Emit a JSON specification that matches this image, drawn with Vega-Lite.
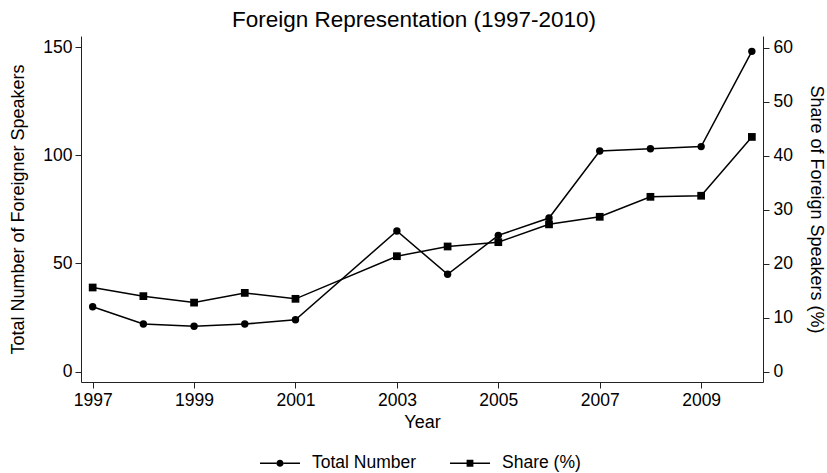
{
  "$schema": "https://vega.github.io/schema/vega-lite/v6.json",
  "width": 682,
  "height": 346,
  "autosize": {"type": "none"},
  "padding": {"left": 81, "top": 36, "right": 64, "bottom": 91},
  "background": "white",
  "title": {"text": "Foreign Representation (1997-2010)", "font": "Liberation Sans", "fontSize": 22.5, "fontWeight": "normal", "color": "black", "anchor": "middle", "offset": 5, "dx": -8},
  "config": {
    "view": {"stroke": null},
    "axis": {"labelFont": "Liberation Sans", "titleFont": "Liberation Sans", "labelFontSize": 17.5, "titleFontSize": 18, "titleFontWeight": "normal", "labelColor": "black", "titleColor": "black", "domainColor": "#222", "tickColor": "#222", "tickSize": 6, "grid": false},
    "legend": {"labelFont": "Liberation Sans", "labelFontSize": 17.5, "labelColor": "black"}
  },
  "data": {"values": [
    {"Year": 1997, "Series": "Total Number", "Value": 30},
    {"Year": 1998, "Series": "Total Number", "Value": 22},
    {"Year": 1999, "Series": "Total Number", "Value": 21},
    {"Year": 2000, "Series": "Total Number", "Value": 22},
    {"Year": 2001, "Series": "Total Number", "Value": 24},
    {"Year": 2003, "Series": "Total Number", "Value": 65},
    {"Year": 2004, "Series": "Total Number", "Value": 45},
    {"Year": 2005, "Series": "Total Number", "Value": 63},
    {"Year": 2006, "Series": "Total Number", "Value": 71},
    {"Year": 2007, "Series": "Total Number", "Value": 102},
    {"Year": 2008, "Series": "Total Number", "Value": 103},
    {"Year": 2009, "Series": "Total Number", "Value": 104},
    {"Year": 2010, "Series": "Total Number", "Value": 148},
    {"Year": 1997, "Series": "Share (%)", "Value": 15.6},
    {"Year": 1998, "Series": "Share (%)", "Value": 14.0},
    {"Year": 1999, "Series": "Share (%)", "Value": 12.8},
    {"Year": 2000, "Series": "Share (%)", "Value": 14.6},
    {"Year": 2001, "Series": "Share (%)", "Value": 13.5},
    {"Year": 2003, "Series": "Share (%)", "Value": 21.4},
    {"Year": 2004, "Series": "Share (%)", "Value": 23.2},
    {"Year": 2005, "Series": "Share (%)", "Value": 24.0},
    {"Year": 2006, "Series": "Share (%)", "Value": 27.3},
    {"Year": 2007, "Series": "Share (%)", "Value": 28.7},
    {"Year": 2008, "Series": "Share (%)", "Value": 32.4},
    {"Year": 2009, "Series": "Share (%)", "Value": 32.6},
    {"Year": 2010, "Series": "Share (%)", "Value": 43.5}
  ]},
  "encoding": {
    "x": {"field": "Year", "type": "quantitative", "scale": {"domain": [1996.77, 2010.22], "nice": false, "zero": false},
      "axis": {"title": "Year", "values": [1997, 1999, 2001, 2003, 2005, 2007, 2009], "format": "d", "labelPadding": 3, "titlePadding": 5}}
  },
  "layer": [
    {
      "transform": [{"filter": "datum.Series === 'Total Number'"}],
      "encoding": {
        "y": {"field": "Value", "type": "quantitative", "scale": {"domain": [-4.76, 155.1], "nice": false, "zero": false},
          "axis": {"title": "Total Number of Foreigner Speakers", "values": [0, 50, 100, 150], "orient": "left", "labelPadding": 3, "titlePadding": 15}}
      },
      "layer": [
        {"mark": {"type": "line", "color": "black", "strokeWidth": 1.5}},
        {"mark": {"type": "point", "filled": true, "color": "black", "shape": "circle", "size": 55, "opacity": 1}},
        {"transform": [{"filter": "false"}],
          "mark": {"type": "point", "filled": true, "fill": "black", "size": 1600, "opacity": 1},
          "encoding": {"shape": {"field": "Series", "type": "nominal",
            "scale": {"domain": ["Total Number", "Share (%)"], "range": [
              "M-1,-0.04H-0.17V0.04H-1ZM0.17,-0.04H1V0.04H0.17ZM-0.18,0A0.18,0.18 0 1,0 0.18,0A0.18,0.18 0 1,0 -0.18,0Z",
              "M-1,-0.04H-0.16V0.04H-1ZM0.16,-0.04H1V0.04H0.16ZM-0.17,-0.17H0.17V0.17H-0.17Z"]},
            "legend": {"title": null, "orient": "none", "direction": "horizontal", "legendX": 179, "legendY": 407, "padding": 0, "labelOffset": 12, "columnPadding": 33, "symbolSize": 1600,
              "symbolFillColor": "black", "symbolStrokeWidth": 0, "symbolOpacity": 1}}}}
      ]
    },
    {
      "transform": [{"filter": "datum.Series === 'Share (%)'"}],
      "encoding": {
        "y": {"field": "Value", "type": "quantitative", "scale": {"domain": [-1.91, 62.2], "nice": false, "zero": false},
          "axis": {"title": "Share of Foreign Speakers (%)", "values": [0, 10, 20, 30, 40, 50, 60], "orient": "right", "labelPadding": 4, "titlePadding": 14}}
      },
      "layer": [
        {"mark": {"type": "line", "color": "black", "strokeWidth": 1.5}},
        {"mark": {"type": "point", "filled": true, "color": "black", "shape": "square", "size": 60, "opacity": 1}}
      ]
    }
  ],
  "resolve": {"scale": {"y": "independent"}}
}
